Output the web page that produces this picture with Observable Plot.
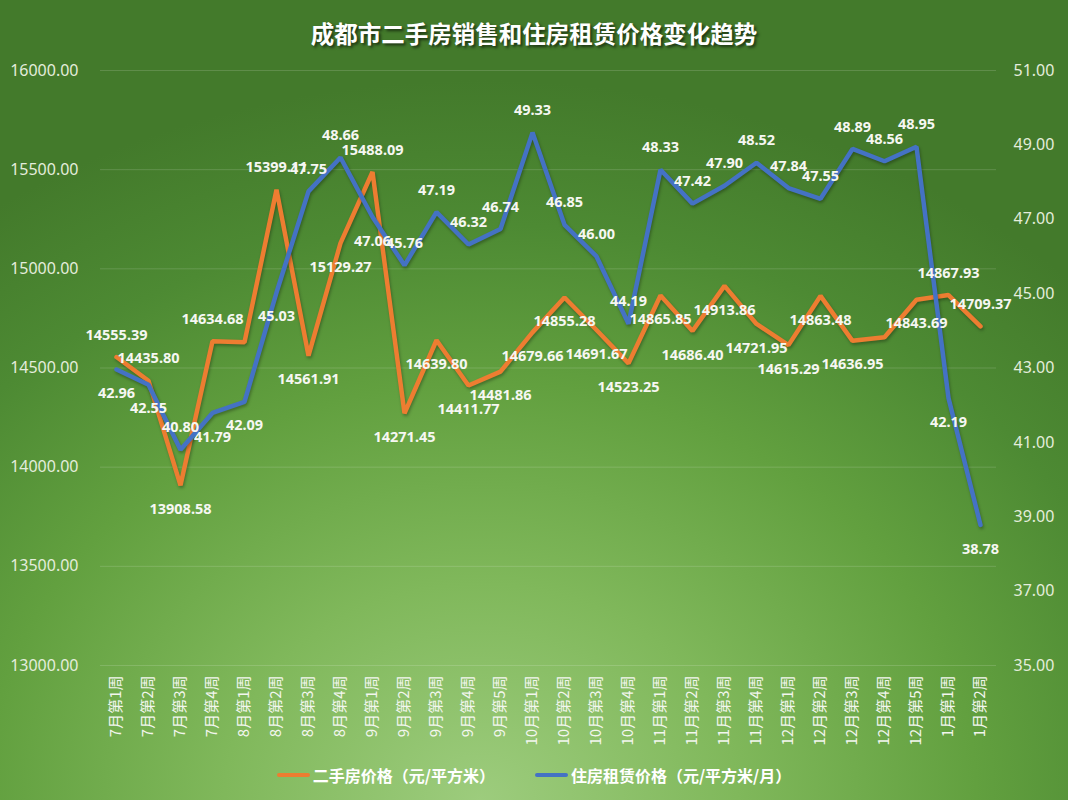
<!DOCTYPE html>
<html>
<head>
<meta charset="utf-8">
<script src="https://cdn.jsdelivr.net/npm/d3@7"></script>
<script src="https://cdn.jsdelivr.net/npm/@observablehq/plot@0.6"></script>
<style>
  body { margin: 0; }
  #wrap {
    position: relative; width: 1068px; height: 800px; overflow: hidden;
    background: radial-gradient(ellipse 80% 90% at 45% 100%, #9dcc7d 0%, #80b85b 30%, #62a03f 58%, #4d8a33 80%, #437a2b 100%);
    font-family: "Noto Sans", "Noto Sans CJK SC", sans-serif;
  }
  #title {
    height: 46px; padding-top: 10px; line-height: 46px; text-align: center;
    color: #ffffff; font-weight: bold; font-size: 23.5px;
    font-family: "Noto Sans CJK SC", sans-serif;
    text-shadow: 2px 2px 3px rgba(0,0,0,0.6);
  }
  #legend {
    height: 34px; padding-top: 10px; display: flex; justify-content: center; align-items: flex-start;
    font-family: "Noto Sans CJK SC", sans-serif; font-weight: bold; font-size: 16px; color: #ffffff;
    line-height: 18px;
  }
  .item { display: flex; align-items: center; margin: 0 20px; }
  .sw { width: 33px; height: 4px; border-radius: 2px; margin-right: 3px; }
  svg g[aria-label="line"] path { filter: drop-shadow(1px 2px 1.5px rgba(0,0,0,0.3)); }
</style>
</head>
<body>
<div id="wrap">
  <div id="title">成都市二手房销售和住房租赁价格变化趋势</div>
  <div id="chart"></div>
  <div id="legend"></div>
</div>
<script>
const weeks = ["7月第1周","7月第2周","7月第3周","7月第4周","8月第1周","8月第2周","8月第3周","8月第4周",
  "9月第1周","9月第2周","9月第3周","9月第4周","9月第5周","10月第1周","10月第2周","10月第3周","10月第4周",
  "11月第1周","11月第2周","11月第3周","11月第4周","12月第1周","12月第2周","12月第3周","12月第4周","12月第5周",
  "1月第1周","1月第2周"];
const price = [14555.39, 14435.80, 13908.58, 14634.68, 14630.00, 15399.11, 14561.91, 15129.27, 15488.09, 14271.45,
  14639.80, 14411.77, 14481.86, 14679.66, 14855.28, 14691.67, 14523.25, 14865.85, 14686.40, 14913.86,
  14721.95, 14615.29, 14863.48, 14636.95, 14655.00, 14843.69, 14867.93, 14709.37];
const rent = [42.96, 42.55, 40.80, 41.79, 42.09, 45.03, 47.75, 48.66, 47.06, 45.76, 47.19, 46.32, 46.74, 49.33,
  46.85, 46.00, 44.19, 48.33, 47.42, 47.90, 48.52, 47.84, 47.55, 48.89, 48.56, 48.95, 42.19, 38.78];
const priceLabelSide = ["above","above","below","above","","above","below","below","above","below",
  "below","below","below","below","below","below","below","below","below","below",
  "below","below","below","below","","below","above","above"];
const rentLabelSide = ["below","below","above","below","below","below","above","above","below","above",
  "above","above","above","above","above","above","above","above","above","above",
  "above","above","above","above","above","above","below","below"];
const priceTicks = [13000, 13500, 14000, 14500, 15000, 15500, 16000];
const rentTicks = [35, 37, 39, 41, 43, 45, 47, 49, 51];
const seriesNames = ["二手房价格（元/平方米）", "住房租赁价格（元/平方米/月）"];
const seriesColors = ["#ed7d31", "#4472c4"];

// map right-axis (rent) values onto the left-axis domain
const toLeft = v => 13000 + (v - 35) * 3000 / 16;
const fromLeft = y => 35 + (y - 13000) * 16 / 3000;

const rows = weeks.map((w, i) => ({
  week: w, price: price[i], rent: rent[i], rentY: toLeft(rent[i]),
  pSide: priceLabelSide[i], rSide: rentLabelSide[i]
}));

const labelStyle = {fill: "#f6f7f2", fontWeight: "bold", fontSize: 14.5, fontFamily: "Noto Sans, sans-serif"};

const chart = Plot.plot({
  width: 1068, height: 700,
  marginTop: 14, marginBottom: 91, marginLeft: 100, marginRight: 72,
  style: {background: "transparent", fontFamily: "Noto Sans, Noto Sans CJK SC, sans-serif", color: "#e4eddc", overflow: "visible"},
  x: {type: "point", domain: weeks, padding: 0.5, label: null},
  y: {domain: [13000, 16000], label: null},
  marks: [
    Plot.ruleY(priceTicks, {stroke: "#ffffff", strokeOpacity: 0.15, strokeWidth: 1}),
    Plot.axisY({anchor: "left", ticks: priceTicks, tickFormat: d => d.toFixed(2), tickSize: 0, tickPadding: 22, fontSize: 16, label: null}),
    Plot.axisY({anchor: "right", ticks: rentTicks.map(toLeft), tickFormat: d => fromLeft(d).toFixed(2), tickSize: 0, tickPadding: 17, fontSize: 16, label: null}),
    Plot.axisX({tickRotate: -90, tickSize: 0, tickPadding: 10, fontSize: 15, fontFamily: "Noto Sans CJK SC, sans-serif", fill: "#f2f6ee", label: null}),
    Plot.line(rows, {x: "week", y: "price", stroke: seriesColors[0], strokeWidth: 4.5, strokeLinejoin: "miter"}),
    Plot.line(rows, {x: "week", y: "rentY", stroke: seriesColors[1], strokeWidth: 4.5, strokeLinejoin: "miter"}),
    Plot.text(rows.filter(d => d.pSide === "above"), {x: "week", y: "price", text: d => d.price.toFixed(2), dy: -22, ...labelStyle}),
    Plot.text(rows.filter(d => d.pSide === "below"), {x: "week", y: "price", text: d => d.price.toFixed(2), dy: 24, ...labelStyle}),
    Plot.text(rows.filter(d => d.rSide === "above"), {x: "week", y: "rentY", text: d => d.rent.toFixed(2), dy: -22, ...labelStyle}),
    Plot.text(rows.filter(d => d.rSide === "below"), {x: "week", y: "rentY", text: d => d.rent.toFixed(2), dy: 24, ...labelStyle})
  ]
});
document.getElementById("chart").appendChild(chart);

const legend = document.getElementById("legend");
seriesNames.forEach((name, i) => {
  const item = document.createElement("div");
  item.className = "item";
  const sw = document.createElement("div");
  sw.className = "sw";
  sw.style.background = seriesColors[i];
  const t = document.createElement("span");
  t.textContent = name;
  item.appendChild(sw); item.appendChild(t);
  legend.appendChild(item);
});
</script>
</body>
</html>
